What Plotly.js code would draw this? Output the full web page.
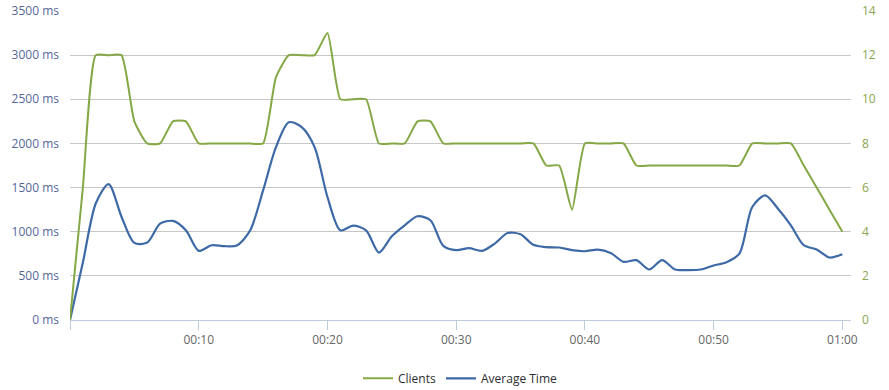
<!DOCTYPE html>
<html>
<head>
<meta charset="utf-8">
<script src="https://cdn.plot.ly/plotly-3.0.1.min.js"></script>
<style>html,body{margin:0;padding:0;background:#fff;}#chart{width:889px;height:390px;}</style>
</head>
<body>
<div id="chart"></div>
<script>
const seconds = [0,1,2,3,4,5,6,7,8,9,10,11,12,13,14,15,16,17,18,19,20,21,22,23,24,25,26,27,28,29,30,31,32,33,34,35,36,37,38,39,40,41,42,43,44,45,46,47,48,49,50,51,52,53,54,55,56,57,58,59,60];
const clients = [0,6,12,12,12,9,8,8,9,9,8,8,8,8,8,8,11,12,12,12,13,10,10,10,8,8,8,9,9,8,8,8,8,8,8,8,8,7,7,5,8,8,8,8,7,7,7,7,7,7,7,7,7,8,8,8,8,7,6,5,4];
const avgTime = [0,650,1320,1540,1170,873,877,1092,1122,1016,783,847,836,847,1016,1468,1958,2240,2184,1958,1393,1016,1069,1016,764,949,1073,1175,1130,840,791,813,783,866,986,971,851,825,821,791,779,798,760,659,678,572,678,572,565,572,617,655,753,1280,1412,1261,1073,847,798,708,745];
const msTicks = [0,500,1000,1500,2000,2500,3000,3500];
const msTickText = ["0 ms","500 ms","1000 ms","1500 ms","2000 ms","2500 ms","3000 ms","3500 ms"];
const clientTicks = [0,2,4,6,8,10,12,14];
const timeTicks = [0,10,20,30,40,50,60];
const timeTickText = ["","00:10","00:20","00:30","00:40","00:50","01:00"];

const green = "#84a845";
const blue = "#3d6aa6";

const traces = [
  {x: seconds, y: clients, name: "Clients", yaxis: "y2", type: "scatter", mode: "lines",
   line: {color: green, width: 2, shape: "spline", smoothing: 0.5}},
  {x: seconds, y: avgTime, name: "Average Time", type: "scatter", mode: "lines",
   line: {color: blue, width: 2.2, shape: "spline", smoothing: 0.8}}
];

const layout = {
  width: 889, height: 390,
  margin: {l: 69.5, r: 38, t: 10.5, b: 70},
  paper_bgcolor: "#fff", plot_bgcolor: "#fff",
  font: {family: "Open Sans, DejaVu Sans, sans-serif", size: 12},
  showlegend: true,
  legend: {orientation: "h", x: 0.5, xanchor: "center", yref: "container", y: 0.03, yanchor: "middle",
           font: {size: 12, color: "#2e2e2e"}, traceorder: "normal", itemwidth: 30},
  xaxis: {range: [0, 60.67], tickvals: timeTicks, ticktext: timeTickText, showgrid: false, zeroline: false,
          showline: true, linecolor: "#bccbdd", linewidth: 1, ticks: "outside", ticklen: 9, tickcolor: "#bccbdd",
          tickfont: {color: "#666", size: 12}, fixedrange: true},
  yaxis: {range: [0, 3500], tickvals: msTicks, ticktext: msTickText, showgrid: true, gridcolor: "#c6c6c6",
          gridwidth: 1, zeroline: false, showline: false, tickfont: {color: "#55679a", size: 12},
          ticklabelstandoff: 10},
  yaxis2: {range: [0, 14], tickvals: clientTicks, overlaying: "y", side: "right", showgrid: false,
           zeroline: false, showline: false, tickfont: {color: "#8aa54e", size: 12}, ticklabelstandoff: 10}
};

Plotly.newPlot("chart", traces, layout, {displayModeBar: false, staticPlot: true});
</script>
</body>
</html>
